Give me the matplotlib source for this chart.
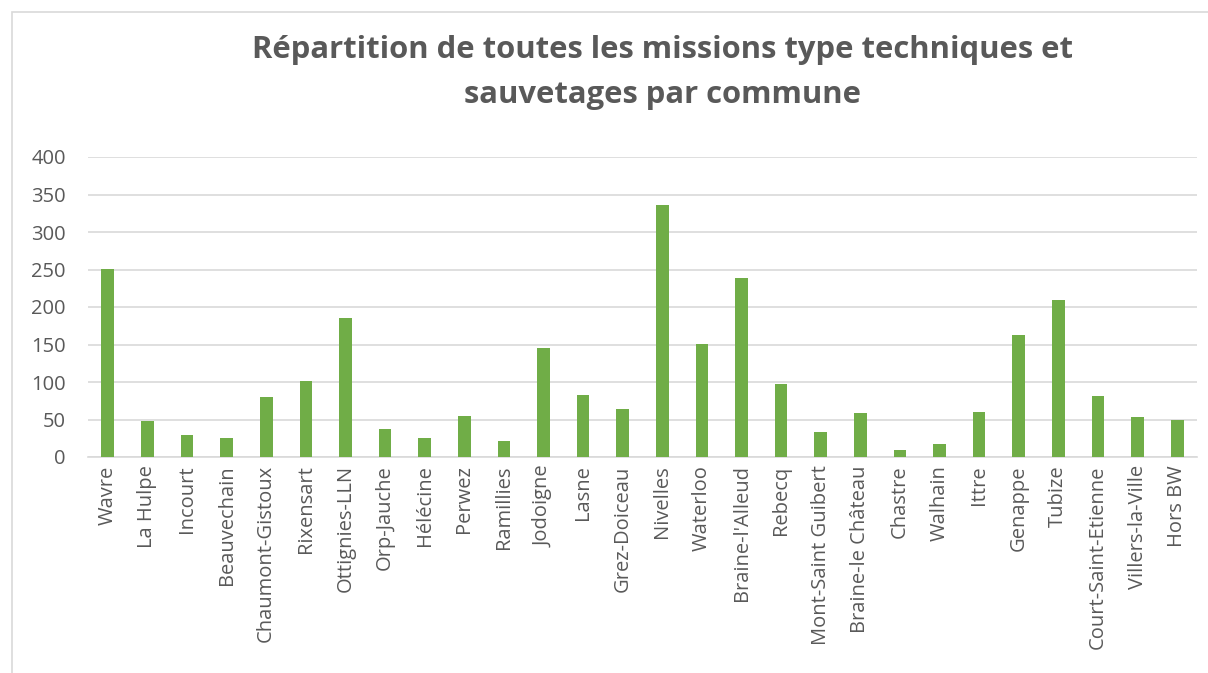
"""Bar chart: missions techniques et sauvetages par commune."""

import matplotlib.pyplot as plt
from matplotlib.patches import Rectangle

communes = ["Wavre", "La Hulpe", "Incourt", "Beauvechain", "Chaumont-Gistoux",
            "Rixensart", "Ottignies-LLN", "Orp-Jauche", "Hélécine", "Perwez",
            "Ramillies", "Jodoigne", "Lasne", "Grez-Doiceau", "Nivelles",
            "Waterloo", "Braine-l'Alleud", "Rebecq", "Mont-Saint Guibert",
            "Braine-le Château", "Chastre", "Walhain", "Ittre", "Genappe",
            "Tubize", "Court-Saint-Etienne", "Villers-la-Ville", "Hors BW"]
missions = [251, 48, 29, 26, 80, 101, 186, 38, 25, 55,
            22, 146, 83, 64, 336, 151, 239, 97, 34,
            59, 9, 17, 60, 163, 210, 81, 54, 50]
yticks = [0, 50, 100, 150, 200, 250, 300, 350, 400]

W, H = 1208, 673
fig = plt.figure(figsize=(W / 100, H / 100), dpi=100)

# chart frame (cropped on the right and bottom)
fig.patches.append(Rectangle((12 / W, -0.1), 1.2, (H - 12) / H + 0.1,
                             transform=fig.transFigure, fill=False,
                             edgecolor="#d9d9d9", linewidth=1.2))

left, right, top, bottom = 88, 1197, 157, 457
ax = fig.add_axes([left / W, 1 - bottom / H, (right - left) / W, (bottom - top) / H])

ax.bar(range(len(communes)), missions, width=0.32, color="#70ad47", zorder=3)

ax.set_xlim(-0.5, len(communes) - 0.5)
ax.set_ylim(0, 400)
ax.set_yticks(yticks)
ax.set_xticks(range(len(communes)))
ax.set_xticklabels(communes, rotation=90)
ax.yaxis.grid(True, color="#d9d9d9", linewidth=1.2, zorder=0)
for s in ["top", "right", "left"]:
    ax.spines[s].set_visible(False)
ax.spines["bottom"].set_color("#d9d9d9")
ax.spines["bottom"].set_linewidth(1.2)
ax.tick_params(axis="both", length=0, labelsize=14.5, labelcolor="#595959")
ax.tick_params(axis="y", pad=16)
ax.tick_params(axis="x", pad=6)
for lab in ax.get_xticklabels() + ax.get_yticklabels():
    lab.set_family("Open Sans")

title_x = 0.5 + 58 / W
fig.text(title_x, 1 - 50 / H,
         "Répartition de toutes les missions type techniques et",
         ha="center", va="center", fontsize=22.3, fontweight="bold",
         color="#595959", family="Open Sans")
fig.text(title_x, 1 - 95 / H, "sauvetages par commune",
         ha="center", va="center", fontsize=22.3, fontweight="bold",
         color="#595959", family="Open Sans")

fig.savefig("out.png", dpi=100)
